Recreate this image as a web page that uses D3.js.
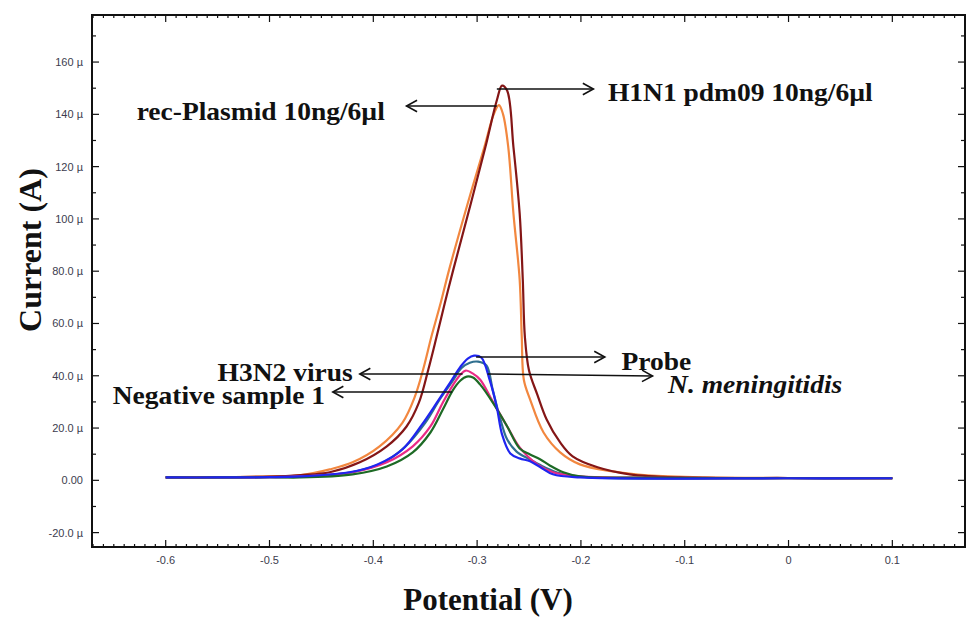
<!DOCTYPE html>
<html>
<head>
<meta charset="utf-8">
<script src="https://cdn.jsdelivr.net/npm/d3@7"></script>
<style>
  body { margin: 0; background: #fff; }
  .tick-label { font-family: Arial, "Liberation Sans", sans-serif; font-size: 11px; fill: #3c3c4e; }
  .note { font-family: "Liberation Serif", "Times New Roman", serif; font-weight: bold; font-size: 25px; fill: #111; }
  .title { font-family: "Liberation Serif", "Times New Roman", serif; font-weight: bold; font-size: 31px; fill: #111; }
</style>
</head>
<body>
<svg></svg>
<script>
const margin = {t: 15, r: 3, b: 70, l: 92};
const size = {w: 968, h: 617};
const svg = d3.select('svg').attr('width', size.w).attr('height', size.h);

// series: [potential V, current µA]
const h1n1 = [[-0.600,1.1],[-0.550,1.2],[-0.500,1.4],[-0.470,2.0],[-0.442,3.1],[-0.413,6.9],[-0.387,13],[-0.368,20.6],
  [-0.356,29.8],[-0.347,42.4],[-0.339,55],[-0.331,68],[-0.323,80.5],[-0.306,106],[-0.292,127.5],[-0.281,145.4],
  [-0.276,151],[-0.271,149],[-0.265,127.5],[-0.259,102],[-0.256,76.7],[-0.254,55],[-0.250,42],[-0.242,32.8],
  [-0.233,23.3],[-0.220,14.5],[-0.208,9.2],[-0.184,5],[-0.153,2.3],[-0.104,1.1],[0,0.9],[0.1,0.8]];
const recPlasmid = [[-0.600,1.1],[-0.550,1.2],[-0.500,1.5],[-0.471,1.9],[-0.442,4.2],[-0.420,6.9],[-0.394,13],[-0.372,22],
  [-0.360,32],[-0.352,42.4],[-0.344,55],[-0.335,68],[-0.327,80.5],[-0.309,106],[-0.293,127.5],[-0.284,140],
  [-0.279,143.5],[-0.275,140],[-0.270,127.5],[-0.265,102],[-0.259,76.7],[-0.257,55],[-0.255,38.5],[-0.249,31],
  [-0.236,18.3],[-0.220,10.7],[-0.201,6.1],[-0.169,3.4],[-0.136,1.9],[-0.080,1.1],[0,0.9],[0.1,0.8]];
const probe = [[-0.600,1.1],[-0.550,1.1],[-0.500,1.2],[-0.471,1.5],[-0.423,3.1],[-0.396,6.1],[-0.372,11.8],[-0.353,21.4],
  [-0.338,30.2],[-0.326,37.4],[-0.316,43.5],[-0.309,46.6],[-0.303,47.7],[-0.296,47],[-0.288,38.5],[-0.281,27.9],
  [-0.276,17.6],[-0.268,10.3],[-0.259,8.4],[-0.249,7.3],[-0.239,5],[-0.227,2.3],[-0.201,1.1],[0,0.8],[0.1,0.8]];
const nMeningitidis = [[-0.600,1.1],[-0.550,1.1],[-0.500,1.2],[-0.471,1.5],[-0.421,3.1],[-0.392,6.5],[-0.370,12.6],[-0.350,22],
  [-0.336,31],[-0.324,37.8],[-0.315,43],[-0.307,45],[-0.299,45.4],[-0.291,43.9],[-0.285,34.7],[-0.278,24],
  [-0.271,15.6],[-0.262,11],[-0.249,8],[-0.235,5],[-0.220,2.7],[-0.191,1.1],[0,0.8],[0.1,0.8]];
const h3n2 = [[-0.600,1.1],[-0.550,1.1],[-0.500,1.2],[-0.471,1.5],[-0.420,3.1],[-0.387,6.9],[-0.362,13],[-0.345,20.6],
  [-0.333,29.8],[-0.323,36.6],[-0.316,40.5],[-0.311,42],[-0.304,40.8],[-0.297,38.5],[-0.285,30.2],[-0.271,20.6],
  [-0.259,12.6],[-0.242,6.1],[-0.227,3.1],[-0.201,1.5],[-0.150,1.0],[0,0.8],[0.1,0.8]];
const negative1 = [[-0.600,1.1],[-0.550,1.1],[-0.500,1.2],[-0.471,1.1],[-0.420,2.3],[-0.387,5.3],[-0.362,10.7],[-0.345,18.3],
  [-0.333,27.1],[-0.323,34.7],[-0.316,38.2],[-0.310,39.7],[-0.304,39.3],[-0.297,36.6],[-0.285,29.8],[-0.271,20.6],
  [-0.259,12.2],[-0.249,9.9],[-0.239,8],[-0.230,5.7],[-0.217,3.1],[-0.201,1.5],[-0.150,1.0],[0,0.8],[0.1,0.8]];

const seriesList = [
  {name: 'rec-Plasmid', data: recPlasmid, color: '#f2873f'},
  {name: 'H1N1', data: h1n1, color: '#841616'},
  {name: 'N. meningitidis', data: nMeningitidis, color: '#2f6f8f'},
  {name: 'H3N2', data: h3n2, color: '#ea2a86'},
  {name: 'Negative', data: negative1, color: '#1d6a25'},
  {name: 'Probe', data: probe, color: '#1f25f0'}
];

const xTicks = [-0.6, -0.5, -0.4, -0.3, -0.2, -0.1, 0, 0.1];
const xTickLabels = ['-0.6', '-0.5', '-0.4', '-0.3', '-0.2', '-0.1', '0', '0.1'];
const yTicks = [-20, 0, 20, 40, 60, 80, 100, 120, 140, 160];
const yTickLabels = ['-20.0 \u00b5', '0.00', '20.0 \u00b5', '40.0 \u00b5', '60.0 \u00b5', '80.0 \u00b5', '100 \u00b5', '120 \u00b5', '140 \u00b5', '160 \u00b5'];

// annotations: label, text anchor point, arrow start/end (data units)
const notes = [
  {text: 'rec-Plasmid 10ng/6\u00b5l', at: [-0.628, 137.8], from: [-0.281, 143.2], to: [-0.368, 143.2]},
  {text: 'H1N1 pdm09 10ng/6\u00b5l', at: [-0.174, 145.1], from: [-0.281, 149.7], to: [-0.188, 149.7]},
  {text: 'Probe', at: [-0.161, 42.2], from: [-0.301, 47.2], to: [-0.177, 47.2]},
  {text: 'H3N2 virus', at: [-0.550, 37.9], from: [-0.314, 40.7], to: [-0.413, 40.7]},
  {text: 'N. meningitidis', at: [-0.116, 33.4], from: [-0.290, 40.7], to: [-0.131, 39.9], italic: true},
  {text: 'Negative sample 1', at: [-0.651, 29.3], from: [-0.324, 33.8], to: [-0.439, 33.8]}
];

const x = d3.scaleLinear().domain([-0.671, 0.170]).range([margin.l, size.w - margin.r]);
const y = d3.scaleLinear().domain([-25.5, 178]).range([size.h - margin.b, margin.t]);

const x0 = x.range()[0], x1 = x.range()[1];
const y0 = y.range()[0], y1 = y.range()[1];

// ticks, all pointing inward, mirrored on the four sides
const axisG = svg.append('g').attr('stroke', '#111');
const xMinor = d3.range(-67, 18).map(d => d / 100);
xMinor.forEach(v => {
  const major = xTicks.some(t => Math.abs(t - v) < 1e-6);
  const len = major ? 7 : 3;
  axisG.append('line').attr('x1', x(v)).attr('x2', x(v)).attr('y1', y0).attr('y2', y0 - len).attr('stroke-width', 1.2);
  axisG.append('line').attr('x1', x(v)).attr('x2', x(v)).attr('y1', y1).attr('y2', y1 + len).attr('stroke-width', 1.2);
});
const yMinor = d3.range(-20, 171, 10);
yMinor.forEach(v => {
  const major = yTicks.includes(v);
  const len = major ? 7 : 4;
  axisG.append('line').attr('y1', y(v)).attr('y2', y(v)).attr('x1', x0).attr('x2', x0 + len).attr('stroke-width', 1.2);
  axisG.append('line').attr('y1', y(v)).attr('y2', y(v)).attr('x1', x1).attr('x2', x1 - len).attr('stroke-width', 1.2);
});
svg.append('rect').attr('x', x0).attr('y', y1).attr('width', x1 - x0).attr('height', y0 - y1)
  .attr('fill', 'none').attr('stroke', '#111').attr('stroke-width', 2);

svg.append('g').selectAll('text').data(xTicks).join('text')
  .attr('class', 'tick-label').attr('x', d => x(d)).attr('y', y0 + 17)
  .attr('text-anchor', 'middle').text((d, i) => xTickLabels[i]);
svg.append('g').selectAll('text').data(yTicks).join('text')
  .attr('class', 'tick-label').attr('x', x0 - 9).attr('y', d => y(d) + 4)
  .attr('text-anchor', 'end').text((d, i) => yTickLabels[i]);

// curves
const line = d3.line().x(d => x(d[0])).y(d => y(d[1])).curve(d3.curveCatmullRom.alpha(0.5));
svg.append('g').selectAll('path').data(seriesList).join('path')
  .attr('d', d => line(d.data))
  .attr('fill', 'none')
  .attr('stroke', d => d.color)
  .attr('stroke-width', 2.2)
  .attr('stroke-linejoin', 'round');

// arrows
const arrowG = svg.append('g').attr('stroke', '#111').attr('fill', 'none').attr('stroke-width', 1.6);
notes.forEach(n => {
  const ax = x(n.from[0]), ay = y(n.from[1]);
  const bx = x(n.to[0]), by = y(n.to[1]);
  arrowG.append('line').attr('x1', ax).attr('y1', ay).attr('x2', bx).attr('y2', by);
  const ang = Math.atan2(by - ay, bx - ax);
  const L = 12, W = 0.5;
  const p1 = [bx - L * Math.cos(ang - W), by - L * Math.sin(ang - W)];
  const p2 = [bx - L * Math.cos(ang + W), by - L * Math.sin(ang + W)];
  arrowG.append('path').attr('d', `M${p1}L${bx},${by}L${p2}`).attr('stroke-linejoin', 'miter');
});

// labels are a bit wider than the serif font, so stretch them horizontally
svg.append('g').selectAll('text').data(notes).join('text')
  .attr('class', 'note')
  .attr('transform', d => `translate(${x(d.at[0])},${y(d.at[1])}) scale(1.1,1)`)
  .style('font-style', d => d.italic ? 'italic' : 'normal')
  .text(d => d.text);

// axis titles
svg.append('text').attr('class', 'title').attr('text-anchor', 'middle')
  .style('font-size', '32px')
  .attr('transform', 'translate(41,250) rotate(-90)').text('Current (A)');
svg.append('text').attr('class', 'title').attr('text-anchor', 'middle')
  .attr('x', 488).attr('y', 610).text('Potential (V)');
</script>
</body>
</html>
